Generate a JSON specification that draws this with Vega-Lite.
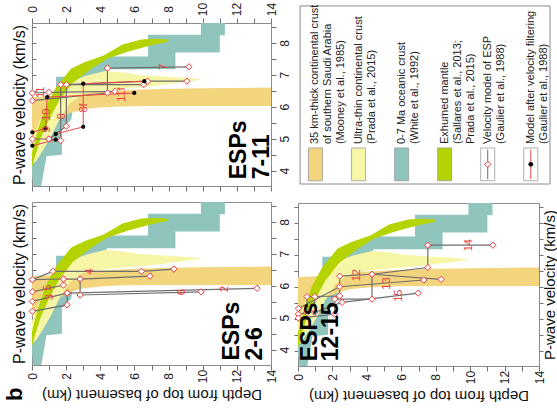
{
  "$schema": "https://vega.github.io/schema/vega-lite/v6.json",
  "padding": {"left": 3, "top": 1, "right": 0, "bottom": 0},
  "background": "white",
  "config": {
    "view": {"stroke": "#8a8a8a", "strokeWidth": 1},
    "font": "Liberation Sans",
    "axis": {"domain": false, "grid": false, "tickColor": "#707070", "tickSize": 5, "labelColor": "#222222", "labelFontSize": 12, "labelFlush": false, "labelOverlap": false, "titleFontSize": 15, "titleFontWeight": "normal", "titleColor": "#111111", "labelFont": "Liberation Sans", "titleFont": "Liberation Sans"},
    "text": {"font": "Liberation Sans"}
  },
  "datasets": {
    "bands": [
      {"band":"teal","i":0,"d":0.1,"v":3.4},{"band":"teal","i":1,"d":0.0,"v":3.9},{"band":"teal","i":2,"d":0.0,"v":4.6},{"band":"teal","i":3,"d":1.0,"v":5.6},{"band":"teal","i":4,"d":1.41,"v":6.0},{"band":"teal","i":5,"d":1.41,"v":6.94},{"band":"teal","i":6,"d":2.3,"v":6.94},{"band":"teal","i":7,"d":3.2,"v":7.3},{"band":"teal","i":8,"d":4.2,"v":7.57},{"band":"teal","i":9,"d":6.8,"v":7.57},{"band":"teal","i":10,"d":6.8,"v":8.25},{"band":"teal","i":11,"d":9.9,"v":8.25},{"band":"teal","i":12,"d":9.9,"v":8.8},{"band":"teal","i":13,"d":11.3,"v":8.8},{"band":"teal","i":14,"d":11.3,"v":8.24},{"band":"teal","i":15,"d":11.0,"v":8.24},{"band":"teal","i":16,"d":11.0,"v":7.7},{"band":"teal","i":17,"d":8.4,"v":7.7},{"band":"teal","i":18,"d":8.4,"v":7.17},{"band":"teal","i":19,"d":4.4,"v":7.17},{"band":"teal","i":20,"d":3.6,"v":6.4},{"band":"teal","i":21,"d":3.5,"v":6.0},{"band":"teal","i":22,"d":2.4,"v":5.95},{"band":"teal","i":23,"d":2.3,"v":5.6},{"band":"teal","i":24,"d":1.75,"v":5.3},{"band":"teal","i":25,"d":1.75,"v":4.5},{"band":"teal","i":26,"d":0.85,"v":4.45},{"band":"teal","i":27,"d":0.5,"v":3.4},
      {"band":"orange","i":0,"d":0,"v":6.3},{"band":"orange","i":1,"d":1,"v":6.33},{"band":"orange","i":2,"d":2,"v":6.39},{"band":"orange","i":3,"d":3,"v":6.44},{"band":"orange","i":4,"d":4,"v":6.48},{"band":"orange","i":5,"d":6,"v":6.53},{"band":"orange","i":6,"d":8,"v":6.56},{"band":"orange","i":7,"d":10,"v":6.58},{"band":"orange","i":8,"d":14,"v":6.6},{"band":"orange","i":9,"d":14,"v":6.02},{"band":"orange","i":10,"d":10,"v":6.02},{"band":"orange","i":11,"d":7,"v":6.02},{"band":"orange","i":12,"d":5,"v":6.01},{"band":"orange","i":13,"d":4,"v":5.98},{"band":"orange","i":14,"d":3,"v":5.92},{"band":"orange","i":15,"d":2.2,"v":5.8},{"band":"orange","i":16,"d":1.5,"v":5.6},{"band":"orange","i":17,"d":1.0,"v":5.4},{"band":"orange","i":18,"d":0.5,"v":5.2},{"band":"orange","i":19,"d":0,"v":5.05},
      {"band":"yellow","i":0,"d":0,"v":4.9},{"band":"yellow","i":1,"d":0.4,"v":5.5},{"band":"yellow","i":2,"d":0.9,"v":6.05},{"band":"yellow","i":3,"d":1.5,"v":6.5},{"band":"yellow","i":4,"d":2.3,"v":6.8},{"band":"yellow","i":5,"d":3.2,"v":6.98},{"band":"yellow","i":6,"d":4.3,"v":7.12},{"band":"yellow","i":7,"d":5.2,"v":7.08},{"band":"yellow","i":8,"d":6.2,"v":7.0},{"band":"yellow","i":9,"d":7.2,"v":6.96},{"band":"yellow","i":10,"d":8.5,"v":6.92},{"band":"yellow","i":11,"d":9.84,"v":6.87},{"band":"yellow","i":12,"d":9.84,"v":6.84},{"band":"yellow","i":13,"d":8.5,"v":6.74},{"band":"yellow","i":14,"d":7.0,"v":6.64},{"band":"yellow","i":15,"d":5.5,"v":6.58},{"band":"yellow","i":16,"d":4.0,"v":6.5},{"band":"yellow","i":17,"d":3.0,"v":6.4},{"band":"yellow","i":18,"d":2.2,"v":6.1},{"band":"yellow","i":19,"d":1.6,"v":5.6},{"band":"yellow","i":20,"d":1.1,"v":5.05},{"band":"yellow","i":21,"d":0.6,"v":4.6},{"band":"yellow","i":22,"d":0.25,"v":4.3},{"band":"yellow","i":23,"d":0,"v":4.2},
      {"band":"green","i":0,"d":0,"v":4.55},{"band":"green","i":1,"d":0.35,"v":5.3},{"band":"green","i":2,"d":0.8,"v":6.0},{"band":"green","i":3,"d":1.4,"v":6.6},{"band":"green","i":4,"d":2.3,"v":7.2},{"band":"green","i":5,"d":3.1,"v":7.4},{"band":"green","i":6,"d":4.2,"v":7.6},{"band":"green","i":7,"d":5.3,"v":7.95},{"band":"green","i":8,"d":6.4,"v":8.1},{"band":"green","i":9,"d":7.2,"v":8.13},{"band":"green","i":10,"d":7.98,"v":8.1},{"band":"green","i":11,"d":7.98,"v":8.03},{"band":"green","i":12,"d":7.0,"v":7.92},{"band":"green","i":13,"d":6.4,"v":7.84},{"band":"green","i":14,"d":5.6,"v":7.72},{"band":"green","i":15,"d":4.4,"v":7.5},{"band":"green","i":16,"d":3.5,"v":7.2},{"band":"green","i":17,"d":2.4,"v":6.75},{"band":"green","i":18,"d":1.6,"v":6.2},{"band":"green","i":19,"d":1.0,"v":5.6},{"band":"green","i":20,"d":0.5,"v":5.0},{"band":"green","i":21,"d":0.15,"v":4.4},{"band":"green","i":22,"d":0,"v":4.1}
    ],
    "esp": [
      {"p":"2-6","s":"4","i":0,"d":0.02,"v":6.19},{"p":"2-6","s":"4","i":1,"d":1.22,"v":6.45},{"p":"2-6","s":"4","i":2,"d":6.41,"v":6.45},{"p":"2-6","s":"4","i":3,"d":8.31,"v":6.52},
      {"p":"2-6","s":"5","i":0,"d":0.02,"v":5.81},{"p":"2-6","s":"5","i":1,"d":1.84,"v":6.02},{"p":"2-6","s":"5","i":2,"d":1.84,"v":6.21},{"p":"2-6","s":"5","i":3,"d":2.82,"v":6.21},{"p":"2-6","s":"5","i":4,"d":6.9,"v":6.3},
      {"p":"2-6","s":"5a","i":0,"d":0.02,"v":6.19},{"p":"2-6","s":"5a","i":1,"d":1.84,"v":6.21},
      {"p":"2-6","s":"6","i":0,"d":2.82,"v":6.21},{"p":"2-6","s":"6","i":1,"d":2.82,"v":5.71},{"p":"2-6","s":"6","i":2,"d":9.9,"v":5.81},
      {"p":"2-6","s":"3","i":0,"d":0.02,"v":5.51},{"p":"2-6","s":"3","i":1,"d":2.06,"v":5.77},{"p":"2-6","s":"3","i":2,"d":13.18,"v":5.92},
      {"p":"2-6","s":"2","i":0,"d":0.02,"v":5.2},{"p":"2-6","s":"2","i":1,"d":2.06,"v":5.4},{"p":"2-6","s":"2","i":2,"d":2.06,"v":5.77},
      {"p":"7-11","s":"7","i":0,"d":0.02,"v":6.19},{"p":"7-11","s":"7","i":1,"d":4.42,"v":6.43},{"p":"7-11","s":"7","i":2,"d":4.42,"v":7.21},{"p":"7-11","s":"7","i":3,"d":9.19,"v":7.25},
      {"p":"7-11","s":"11","i":0,"d":0.02,"v":6.43},{"p":"7-11","s":"11","i":1,"d":0.99,"v":6.45},{"p":"7-11","s":"11","i":2,"d":4.85,"v":6.48},
      {"p":"7-11","s":"8","i":0,"d":0.02,"v":4.99},{"p":"7-11","s":"8","i":1,"d":0.99,"v":4.99},{"p":"7-11","s":"8","i":2,"d":1.68,"v":4.94},{"p":"7-11","s":"8","i":3,"d":1.68,"v":6.69},{"p":"7-11","s":"8","i":4,"d":6.54,"v":6.69},
      {"p":"7-11","s":"9","i":0,"d":0.99,"v":4.99},{"p":"7-11","s":"9","i":1,"d":2.01,"v":5.39},{"p":"7-11","s":"9","i":2,"d":2.01,"v":6.69},{"p":"7-11","s":"9","i":3,"d":6.77,"v":6.8},{"p":"7-11","s":"9","i":4,"d":9.07,"v":6.8},
      {"p":"12-15","s":"12","i":0,"d":0.02,"v":5.14},{"p":"12-15","s":"12","i":1,"d":0.52,"v":5.19},{"p":"12-15","s":"12","i":2,"d":0.52,"v":5.69},{"p":"12-15","s":"12","i":3,"d":2.42,"v":5.71},{"p":"12-15","s":"12","i":4,"d":2.42,"v":6.33},{"p":"12-15","s":"12","i":5,"d":4.3,"v":6.39},{"p":"12-15","s":"12","i":6,"d":8.31,"v":6.23},
      {"p":"12-15","s":"13","i":0,"d":0.02,"v":5.32},{"p":"12-15","s":"13","i":1,"d":2.42,"v":6.0},{"p":"12-15","s":"13","i":2,"d":7.31,"v":6.21},
      {"p":"12-15","s":"14","i":0,"d":0.02,"v":5.02},{"p":"12-15","s":"14","i":1,"d":2.13,"v":5.14},{"p":"12-15","s":"14","i":2,"d":2.13,"v":5.61},{"p":"12-15","s":"14","i":3,"d":4.3,"v":5.61},{"p":"12-15","s":"14","i":4,"d":4.3,"v":6.39},{"p":"12-15","s":"14","i":5,"d":7.54,"v":6.6},{"p":"12-15","s":"14","i":6,"d":7.54,"v":7.3},{"p":"12-15","s":"14","i":7,"d":11.32,"v":7.3},
      {"p":"12-15","s":"15","i":0,"d":0.97,"v":5.69},{"p":"12-15","s":"15","i":1,"d":0.97,"v":5.2},{"p":"12-15","s":"15","i":2,"d":2.56,"v":5.51},{"p":"12-15","s":"15","i":3,"d":6.98,"v":5.8}
    ],
    "espf": [
      {"s":"8f","i":0,"d":0.02,"v":4.78},{"s":"8f","i":1,"d":1.39,"v":4.97},{"s":"8f","i":2,"d":1.39,"v":5.15},{"s":"8f","i":3,"d":3.0,"v":5.37},{"s":"8f","i":4,"d":3.0,"v":6.72},{"s":"8f","i":5,"d":6.58,"v":6.8},
      {"s":"11f","i":0,"d":0.02,"v":5.2},{"s":"11f","i":1,"d":0.8,"v":5.32},{"s":"11f","i":2,"d":0.89,"v":6.3},{"s":"11f","i":3,"d":5.99,"v":6.43}
    ],
    "lab": [
      {"p":"2-6","t":"4","d":3.4,"v":6.45},{"p":"2-6","t":"5","d":0.95,"v":5.93},{"p":"2-6","t":"3","d":1.05,"v":5.64},{"p":"2-6","t":"6","d":8.76,"v":5.8},{"p":"2-6","t":"2","d":11.3,"v":5.9},
      {"p":"7-11","t":"7","d":7.75,"v":7.25},{"p":"7-11","t":"11","d":0.55,"v":6.45},{"p":"7-11","t":"11f","d":5.3,"v":6.38},{"p":"7-11","t":"8f","d":3.05,"v":5.96},{"p":"7-11","t":"10","d":0.85,"v":5.75},{"p":"7-11","t":"8","d":1.78,"v":5.7},{"p":"7-11","t":"9","d":0.9,"v":5.29},
      {"p":"12-15","t":"12","d":3.43,"v":6.36},{"p":"12-15","t":"13","d":5.17,"v":6.1},{"p":"12-15","t":"15","d":5.85,"v":5.72},{"p":"12-15","t":"14","d":9.92,"v":7.3}
    ],
    "ptitle": [
      {"p":"7-11","t":"ESPs","d":12.12,"v":3.73},{"p":"7-11","t":"7-11","d":13.45,"v":3.73},
      {"p":"2-6","t":"ESPs","d":11.7,"v":3.66},{"p":"2-6","t":"2-6","d":13.08,"v":3.66},
      {"p":"12-15","t":"ESPs","d":0.7,"v":3.67},{"p":"12-15","t":"12-15","d":1.9,"v":3.67}
    ],
    "letter": [{"t":"b","d":-1.0,"v":2.6}],
    "legsw": [{"item":0},{"item":1},{"item":2},{"item":3},{"item":4},{"item":5}],
    "legend": [
      {"item":0,"line":0,"t":"35 km-thick continental crust"},{"item":0,"line":1,"t":"of southern Saudi Arabia"},{"item":0,"line":2,"t":"(Mooney et al., 1985)"},
      {"item":1,"line":0,"t":"Ultra-thin continental crust"},{"item":1,"line":1,"t":"(Prada et al., 2015)"},
      {"item":2,"line":0,"t":"0-7 Ma oceanic crust"},{"item":2,"line":1,"t":"(White et al., 1992)"},
      {"item":3,"line":0,"t":"Exhumed mantle"},{"item":3,"line":1,"t":"(Sallares et al., 2013;"},{"item":3,"line":2,"t":"Prada et al., 2015)"},
      {"item":4,"line":0,"t":"Velocity model of ESP"},{"item":4,"line":1,"t":"(Gaulier et al., 1988)"},
      {"item":5,"line":0,"t":"Model after velocity filtering"},{"item":5,"line":1,"t":"(Gaulier et al., 1988)"}
    ]
  },
  "spacing": 0,
  "hconcat": [
    {
      "spacing": 9,
      "vconcat": [
        {
          "width": 239, "height": 163,
          "resolve": {"axis": {"x": "independent", "y": "independent"}},
          "layer": [
            {"data": {"name": "bands"}, "transform": [{"filter": "datum.band == 'teal'"}],
             "mark": {"type": "line", "fill": "#8fc5bd", "strokeWidth": 0, "clip": true},
             "encoding": {
               "x": {"field": "d", "type": "quantitative", "scale": {"domain": [0, 14], "nice": false, "zero": false},
                     "axis": {"orient": "top", "values": [0,1,2,3,4,5,6,7,8,9,10,11,12,13,14], "labelExpr": "datum.value % 2 === 0 ? datum.label : ''", "labelAngle": 270, "labelAlign": "center", "labelBaseline": "middle", "labelPadding": 9, "title": null}},
               "y": {"field": "v", "type": "quantitative", "scale": {"domain": [3.52, 8.62], "nice": false, "zero": false},
                     "axis": {"orient": "left", "values": [4,4.5,5,5.5,6,6.5,7,7.5,8,8.5], "labels": false, "tickSize": -4, "title": "P-wave velocity (km/s)", "titlePadding": 4, "titleFontSize": 16}},
               "order": {"field": "i", "type": "quantitative"}
             }},
            {"data": {"name": "bands"}, "transform": [{"filter": "datum.band == 'orange'"}],
             "mark": {"type": "line", "fill": "#f2d57c", "strokeWidth": 0, "clip": true},
             "encoding": {
               "x": {"field": "d", "type": "quantitative", "axis": {"orient": "bottom", "values": [0,1,2,3,4,5,6,7,8,9,10,11,12,13,14], "labels": false, "title": null}},
               "y": {"field": "v", "type": "quantitative", "axis": {"orient": "right", "values": [4,4.5,5,5.5,6,6.5,7,7.5,8,8.5], "labelExpr": "datum.value % 1 === 0 ? format(datum.value, 'd') : ''", "labelAngle": 270, "labelAlign": "center", "labelBaseline": "middle", "labelPadding": 8, "title": null}},
               "order": {"field": "i", "type": "quantitative"}
             }},
            {"data": {"name": "bands"}, "transform": [{"filter": "datum.band == 'yellow'"}],
             "mark": {"type": "line", "fill": "#f7f6a6", "strokeWidth": 0, "clip": true},
             "encoding": {"x": {"field": "d", "type": "quantitative", "axis": null}, "y": {"field": "v", "type": "quantitative", "axis": null}, "order": {"field": "i", "type": "quantitative"}}},
            {"data": {"name": "bands"}, "transform": [{"filter": "datum.band == 'green'"}],
             "mark": {"type": "line", "fill": "#b5d300", "strokeWidth": 0, "clip": true},
             "encoding": {"x": {"field": "d", "type": "quantitative", "axis": null}, "y": {"field": "v", "type": "quantitative", "axis": null}, "order": {"field": "i", "type": "quantitative"}}},
            {"data": {"name": "esp"}, "transform": [{"filter": "datum.p == '7-11'"}],
             "mark": {"type": "line", "color": "#6f6f6f", "strokeWidth": 1.2},
             "encoding": {"x": {"field": "d", "type": "quantitative", "axis": null}, "y": {"field": "v", "type": "quantitative", "axis": null}, "detail": {"field": "s"}, "order": {"field": "i", "type": "quantitative"}}},
            {"data": {"name": "espf"},
             "mark": {"type": "line", "color": "#f0464a", "strokeWidth": 1},
             "encoding": {"x": {"field": "d", "type": "quantitative", "axis": null}, "y": {"field": "v", "type": "quantitative", "axis": null}, "detail": {"field": "s"}, "order": {"field": "i", "type": "quantitative"}}},
            {"data": {"name": "esp"}, "transform": [{"filter": "datum.p == '7-11'"}],
             "mark": {"type": "point", "shape": "diamond", "filled": false, "fill": "white", "fillOpacity": 1, "stroke": "#ec3b3f", "strokeWidth": 1, "size": 40, "opacity": 1},
             "encoding": {"x": {"field": "d", "type": "quantitative", "axis": null}, "y": {"field": "v", "type": "quantitative", "axis": null}}},
            {"data": {"name": "espf"},
             "mark": {"type": "point", "shape": "circle", "filled": true, "color": "#000000", "size": 18, "opacity": 1},
             "encoding": {"x": {"field": "d", "type": "quantitative", "axis": null}, "y": {"field": "v", "type": "quantitative", "axis": null}}},
            {"data": {"name": "lab"}, "transform": [{"filter": "datum.p == '7-11'"}],
             "mark": {"type": "text", "angle": 270, "align": "center", "baseline": "middle", "fontSize": 11, "color": "#ec3b3f"},
             "encoding": {"x": {"field": "d", "type": "quantitative", "axis": null}, "y": {"field": "v", "type": "quantitative", "axis": null}, "text": {"field": "t"}}},
            {"data": {"name": "ptitle"}, "transform": [{"filter": "datum.p == '7-11'"}],
             "mark": {"type": "text", "angle": 270, "align": "left", "baseline": "middle", "fontSize": 23, "fontWeight": "bold", "color": "#000000"},
             "encoding": {"x": {"field": "d", "type": "quantitative", "axis": null}, "y": {"field": "v", "type": "quantitative", "axis": null}, "text": {"field": "t"}}}
          ]
        },
        {
          "width": 239, "height": 163,
          "resolve": {"axis": {"x": "independent", "y": "independent"}},
          "layer": [
            {"data": {"name": "bands"}, "transform": [{"filter": "datum.band == 'teal'"}],
             "mark": {"type": "line", "fill": "#8fc5bd", "strokeWidth": 0, "clip": true},
             "encoding": {
               "x": {"field": "d", "type": "quantitative", "scale": {"domain": [0, 14], "nice": false, "zero": false},
                     "axis": {"orient": "bottom", "values": [0,1,2,3,4,5,6,7,8,9,10,11,12,13,14], "labelExpr": "datum.value % 2 === 0 ? datum.label : ''", "labelAngle": 270, "labelAlign": "center", "labelBaseline": "middle", "labelPadding": 6, "title": "Depth from top of basement (km)", "titleAngle": 180, "titleBaseline": "bottom", "titlePadding": 4}},
               "y": {"field": "v", "type": "quantitative", "scale": {"domain": [3.52, 8.62], "nice": false, "zero": false},
                     "axis": {"orient": "left", "values": [4,4.5,5,5.5,6,6.5,7,7.5,8,8.5], "labels": false, "tickSize": -4, "title": "P-wave velocity (km/s)", "titlePadding": 4, "titleFontSize": 16}},
               "order": {"field": "i", "type": "quantitative"}
             }},
            {"data": {"name": "bands"}, "transform": [{"filter": "datum.band == 'orange'"}],
             "mark": {"type": "line", "fill": "#f2d57c", "strokeWidth": 0, "clip": true},
             "encoding": {
               "x": {"field": "d", "type": "quantitative", "axis": null},
               "y": {"field": "v", "type": "quantitative", "axis": {"orient": "right", "values": [4,4.5,5,5.5,6,6.5,7,7.5,8,8.5], "labelExpr": "datum.value % 1 === 0 ? format(datum.value, 'd') : ''", "labelAngle": 270, "labelAlign": "center", "labelBaseline": "middle", "labelPadding": 8, "title": null}},
               "order": {"field": "i", "type": "quantitative"}
             }},
            {"data": {"name": "bands"}, "transform": [{"filter": "datum.band == 'yellow'"}],
             "mark": {"type": "line", "fill": "#f7f6a6", "strokeWidth": 0, "clip": true},
             "encoding": {"x": {"field": "d", "type": "quantitative", "axis": null}, "y": {"field": "v", "type": "quantitative", "axis": null}, "order": {"field": "i", "type": "quantitative"}}},
            {"data": {"name": "bands"}, "transform": [{"filter": "datum.band == 'green'"}],
             "mark": {"type": "line", "fill": "#b5d300", "strokeWidth": 0, "clip": true},
             "encoding": {"x": {"field": "d", "type": "quantitative", "axis": null}, "y": {"field": "v", "type": "quantitative", "axis": null}, "order": {"field": "i", "type": "quantitative"}}},
            {"data": {"name": "esp"}, "transform": [{"filter": "datum.p == '2-6'"}],
             "mark": {"type": "line", "color": "#6f6f6f", "strokeWidth": 1.2},
             "encoding": {"x": {"field": "d", "type": "quantitative", "axis": null}, "y": {"field": "v", "type": "quantitative", "axis": null}, "detail": {"field": "s"}, "order": {"field": "i", "type": "quantitative"}}},
            {"data": {"name": "esp"}, "transform": [{"filter": "datum.p == '2-6'"}],
             "mark": {"type": "point", "shape": "diamond", "filled": false, "fill": "white", "fillOpacity": 1, "stroke": "#ec3b3f", "strokeWidth": 1, "size": 40, "opacity": 1},
             "encoding": {"x": {"field": "d", "type": "quantitative", "axis": null}, "y": {"field": "v", "type": "quantitative", "axis": null}}},
            {"data": {"name": "lab"}, "transform": [{"filter": "datum.p == '2-6'"}],
             "mark": {"type": "text", "angle": 270, "align": "center", "baseline": "middle", "fontSize": 11, "color": "#ec3b3f"},
             "encoding": {"x": {"field": "d", "type": "quantitative", "axis": null}, "y": {"field": "v", "type": "quantitative", "axis": null}, "text": {"field": "t"}}},
            {"data": {"name": "ptitle"}, "transform": [{"filter": "datum.p == '2-6'"}],
             "mark": {"type": "text", "angle": 270, "align": "left", "baseline": "middle", "fontSize": 23, "fontWeight": "bold", "color": "#000000"},
             "encoding": {"x": {"field": "d", "type": "quantitative", "axis": null}, "y": {"field": "v", "type": "quantitative", "axis": null}, "text": {"field": "t"}}},
            {"data": {"name": "letter"},
             "mark": {"type": "text", "angle": 270, "align": "center", "baseline": "middle", "fontSize": 22, "fontWeight": "bold", "color": "#000000"},
             "encoding": {"x": {"field": "d", "type": "quantitative", "axis": null}, "y": {"field": "v", "type": "quantitative", "axis": null}, "text": {"field": "t"}}}
          ]
        }
      ]
    },
    {
      "spacing": 17,
      "vconcat": [
        {
          "width": 257, "height": 161,
          "view": {"stroke": null},
          "layer": [
            {"data": {"values": [{"box": 1}]},
             "mark": {"type": "rect", "filled": false, "stroke": "#8a8a8a", "strokeWidth": 1},
             "encoding": {
               "x": {"datum": -0.357, "type": "quantitative", "scale": {"domain": [-0.29, 5.446], "nice": false, "zero": false}, "axis": null},
               "x2": {"datum": 5.446},
               "y": {"datum": 0, "type": "quantitative", "scale": {"domain": [0, 1], "nice": false}, "axis": null},
               "y2": {"datum": 1.106}
             }},
            {"data": {"name": "legsw"},
             "mark": {"type": "bar", "width": 14, "stroke": "#9a9a9a", "strokeWidth": 0.8},
             "encoding": {
               "x": {"field": "item", "type": "quantitative", "axis": null},
               "y": {"datum": 0.02, "type": "quantitative", "axis": null},
               "y2": {"datum": 0.224},
               "color": {"field": "item", "type": "ordinal", "scale": {"domain": [0,1,2,3,4,5], "range": ["#f2d57c", "#f7f6a6", "#8fc5bd", "#b5d300", "#ffffff", "#ffffff"]}, "legend": null}
             }},
            {"data": {"name": "legsw"}, "transform": [{"filter": "datum.item == 4"}],
             "mark": {"type": "rule", "color": "#6f6f6f", "strokeWidth": 1},
             "encoding": {"x": {"field": "item", "type": "quantitative", "axis": null}, "y": {"datum": 0.03, "type": "quantitative", "axis": null}, "y2": {"datum": 0.214}}},
            {"data": {"name": "legsw"}, "transform": [{"filter": "datum.item == 5"}],
             "mark": {"type": "rule", "color": "#f0464a", "strokeWidth": 1},
             "encoding": {"x": {"field": "item", "type": "quantitative", "axis": null}, "y": {"datum": 0.03, "type": "quantitative", "axis": null}, "y2": {"datum": 0.214}}},
            {"data": {"name": "legsw"}, "transform": [{"filter": "datum.item == 4"}],
             "mark": {"type": "point", "shape": "diamond", "filled": false, "fill": "white", "fillOpacity": 1, "stroke": "#ec3b3f", "strokeWidth": 1, "size": 40, "opacity": 1},
             "encoding": {"x": {"field": "item", "type": "quantitative", "axis": null}, "y": {"datum": 0.122, "type": "quantitative", "axis": null}}},
            {"data": {"name": "legsw"}, "transform": [{"filter": "datum.item == 5"}],
             "mark": {"type": "point", "shape": "circle", "filled": true, "color": "#000000", "size": 22, "opacity": 1},
             "encoding": {"x": {"field": "item", "type": "quantitative", "axis": null}, "y": {"datum": 0.122, "type": "quantitative", "axis": null}}},
            {"data": {"name": "legend"}, "transform": [{"filter": "datum.line == 0"}],
             "mark": {"type": "text", "angle": 270, "align": "left", "baseline": "middle", "fontSize": 11, "color": "#222222"},
             "encoding": {"x": {"field": "item", "type": "quantitative", "axis": null}, "y": {"datum": 0.248, "type": "quantitative", "axis": null}, "text": {"field": "t"}}},
            {"data": {"name": "legend"}, "transform": [{"filter": "datum.line == 1"}],
             "mark": {"type": "text", "angle": 270, "align": "left", "baseline": "middle", "fontSize": 11, "color": "#222222", "dy": 13},
             "encoding": {"x": {"field": "item", "type": "quantitative", "axis": null}, "y": {"datum": 0.248, "type": "quantitative", "axis": null}, "text": {"field": "t"}}},
            {"data": {"name": "legend"}, "transform": [{"filter": "datum.line == 2"}],
             "mark": {"type": "text", "angle": 270, "align": "left", "baseline": "middle", "fontSize": 11, "color": "#222222", "dy": 26},
             "encoding": {"x": {"field": "item", "type": "quantitative", "axis": null}, "y": {"datum": 0.248, "type": "quantitative", "axis": null}, "text": {"field": "t"}}}
          ]
        },
        {
          "width": 241, "height": 163,
          "resolve": {"axis": {"x": "independent", "y": "independent"}},
          "layer": [
            {"data": {"name": "bands"}, "transform": [{"filter": "datum.band == 'teal'"}],
             "mark": {"type": "line", "fill": "#8fc5bd", "strokeWidth": 0, "clip": true},
             "encoding": {
               "x": {"field": "d", "type": "quantitative", "scale": {"domain": [0, 14], "nice": false, "zero": false},
                     "axis": {"orient": "bottom", "values": [0,1,2,3,4,5,6,7,8,9,10,11,12,13,14], "labelExpr": "datum.value % 2 === 0 ? datum.label : ''", "labelAngle": 270, "labelAlign": "center", "labelBaseline": "middle", "labelPadding": 6, "title": "Depth from top of basement (km)", "titleAngle": 180, "titleBaseline": "bottom", "titlePadding": 4}},
               "y": {"field": "v", "type": "quantitative", "scale": {"domain": [3.52, 8.62], "nice": false, "zero": false},
                     "axis": {"orient": "left", "values": [4,4.5,5,5.5,6,6.5,7,7.5,8,8.5], "labels": false, "tickSize": 4, "title": null}},
               "order": {"field": "i", "type": "quantitative"}
             }},
            {"data": {"name": "bands"}, "transform": [{"filter": "datum.band == 'orange'"}],
             "mark": {"type": "line", "fill": "#f2d57c", "strokeWidth": 0, "clip": true},
             "encoding": {
               "x": {"field": "d", "type": "quantitative", "axis": null},
               "y": {"field": "v", "type": "quantitative", "axis": {"orient": "right", "values": [4,4.5,5,5.5,6,6.5,7,7.5,8,8.5], "labels": false, "tickSize": 4, "title": "P-wave velocity (km/s)", "titleAngle": 270, "titleBaseline": "top", "titlePadding": -1, "titleFontSize": 15}},
               "order": {"field": "i", "type": "quantitative"}
             }},
            {"data": {"name": "bands"}, "transform": [{"filter": "datum.band == 'yellow'"}],
             "mark": {"type": "line", "fill": "#f7f6a6", "strokeWidth": 0, "clip": true},
             "encoding": {"x": {"field": "d", "type": "quantitative", "axis": null}, "y": {"field": "v", "type": "quantitative", "axis": null}, "order": {"field": "i", "type": "quantitative"}}},
            {"data": {"name": "bands"}, "transform": [{"filter": "datum.band == 'green'"}],
             "mark": {"type": "line", "fill": "#b5d300", "strokeWidth": 0, "clip": true},
             "encoding": {"x": {"field": "d", "type": "quantitative", "axis": null}, "y": {"field": "v", "type": "quantitative", "axis": null}, "order": {"field": "i", "type": "quantitative"}}},
            {"data": {"name": "esp"}, "transform": [{"filter": "datum.p == '12-15'"}],
             "mark": {"type": "line", "color": "#6f6f6f", "strokeWidth": 1.2},
             "encoding": {"x": {"field": "d", "type": "quantitative", "axis": null}, "y": {"field": "v", "type": "quantitative", "axis": null}, "detail": {"field": "s"}, "order": {"field": "i", "type": "quantitative"}}},
            {"data": {"name": "esp"}, "transform": [{"filter": "datum.p == '12-15'"}],
             "mark": {"type": "point", "shape": "diamond", "filled": false, "fill": "white", "fillOpacity": 1, "stroke": "#ec3b3f", "strokeWidth": 1, "size": 40, "opacity": 1},
             "encoding": {"x": {"field": "d", "type": "quantitative", "axis": null}, "y": {"field": "v", "type": "quantitative", "axis": null}}},
            {"data": {"name": "lab"}, "transform": [{"filter": "datum.p == '12-15'"}],
             "mark": {"type": "text", "angle": 270, "align": "center", "baseline": "middle", "fontSize": 11, "color": "#ec3b3f"},
             "encoding": {"x": {"field": "d", "type": "quantitative", "axis": null}, "y": {"field": "v", "type": "quantitative", "axis": null}, "text": {"field": "t"}}},
            {"data": {"name": "ptitle"}, "transform": [{"filter": "datum.p == '12-15'"}],
             "mark": {"type": "text", "angle": 270, "align": "left", "baseline": "middle", "fontSize": 23, "fontWeight": "bold", "color": "#000000"},
             "encoding": {"x": {"field": "d", "type": "quantitative", "axis": null}, "y": {"field": "v", "type": "quantitative", "axis": null}, "text": {"field": "t"}}}
          ]
        }
      ]
    }
  ]
}
